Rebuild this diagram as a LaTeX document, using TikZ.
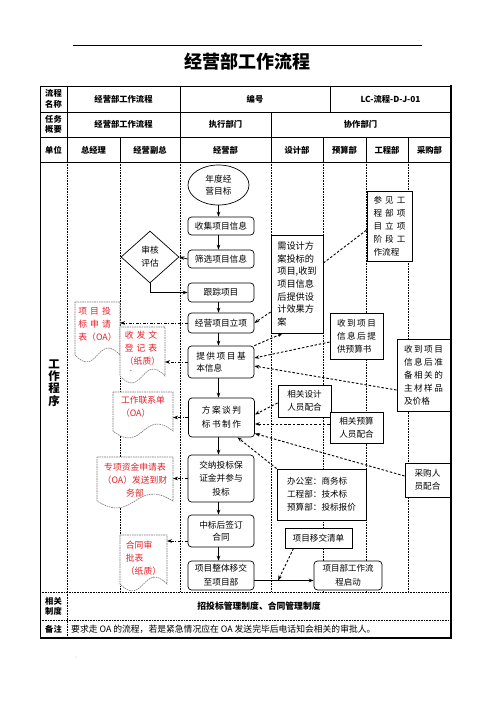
\documentclass[tikz,border=0pt]{standalone}
\usepackage{fontspec}
\setmainfont{Noto Sans CJK SC}
\usetikzlibrary{arrows.meta,shapes.geometric,calc}
\definecolor{docred}{RGB}{232,32,40}
\definecolor{docgray}{RGB}{120,120,120}
\newcommand\gp{\hspace{3pt}}
\newcommand\gq{\hspace{1.5pt}}
\newcommand\docshape[1]{\draw[docline] (#1.north west) -- (#1.north east) -- (#1.south east) .. controls ($(#1.south)+(0,-24)$) and ($(#1.south)+(0,24)$) .. (#1.south west) -- cycle;}
\begin{document}
\begin{tikzpicture}[x=1pt,y=-1pt,
 tbl/.style={line width=0.6pt},
 outerb/.style={line width=1.6pt},
 lane/.style={line width=0.5pt,dash pattern=on 0.7pt off 0.9pt},
 hd/.style={font=\bfseries\fontsize{8.3}{10.5}\selectfont, align=center, inner sep=0pt},
 proc/.style={draw, fill=white, rounded corners=3.5pt, line width=0.7pt, minimum width=66, inner sep=1pt, align=center, font=\fontsize{8.7}{12.5}\selectfont},
 note/.style={draw, fill=white, line width=0.8pt, inner sep=1pt, align=center, font=\fontsize{8.6}{12.9}\selectfont},
 docph/.style={inner sep=0pt, outer sep=0pt},
 docline/.style={draw=docgray, fill=white, line width=0.6pt, dash pattern=on 1.6pt off 0.8pt},
 doctxt/.style={text=docred, align=left, inner sep=0pt, font=\fontsize{8.8}{13}\selectfont},
 arr/.style={-{Stealth[length=5pt,width=3.6pt]}, line width=0.8pt},
 darr/.style={-{Stealth[length=5pt,width=3.6pt]}, line width=0.9pt, dash pattern=on 2.5pt off 1.8pt},
 dline/.style={line width=0.9pt, dash pattern=on 2.5pt off 1.8pt},
 ddarr/.style={-{Stealth[length=5pt,width=3.6pt]}, line width=0.7pt, dash pattern=on 3pt off 1.5pt on 1pt off 1.5pt},
]
\useasboundingbox (0,0) rectangle (496,702);
\fill[white] (0,0) rectangle (496,702);

% header line and title
\draw[line width=0.9pt] (73,45) -- (422,45);
\node[font=\fontsize{4}{4}\selectfont, text=gray] (m1) at (419,41) {..};
\node[font=\bfseries\fontsize{18}{20}\selectfont] (title) at (247,62) {经营部工作流程};

% lanes (main area)
\foreach \x in {67,120,180,271,323,366,408} \draw[lane] (\x,162) -- (\x,592);
\draw[lane] (40,592) -- (451,592);
\draw[lane] (40,620) -- (451,620);
\draw[lane] (67,592) -- (67,638);

% table lines
\draw[tbl] (40,86) -- (451,86);
\draw[tbl] (40,86) -- (40,638);
\draw[tbl] (40,112) -- (451,112);
\draw[tbl] (40,137) -- (451,137);
\draw[tbl] (40,162) -- (451,162);
\draw[tbl] (67,86) -- (67,162);
\draw[tbl] (180,86) -- (180,162);
\draw[tbl] (330,86) -- (330,112);
\draw[tbl] (271,112) -- (271,162);
\foreach \x in {120,323,366,408} \draw[tbl] (\x,137) -- (\x,162);
\draw[outerb] (451,85.2) -- (451,638) -- (40,638);

% header texts
\node[hd] (h1) at (53.5,99) {流程\\名称};
\node[hd] (h2) at (53.5,124.5) {任务\\概要};
\node[hd] (h3) at (53.5,150) {单位};
\node[hd] (v1) at (123.5,99) {经营部工作流程};
\node[hd] (v2) at (255,99) {编号};
\node[hd] (v3) at (390.5,99) {LC-流程-D-J-01};
\node[hd] (v4) at (123.5,124.5) {经营部工作流程};
\node[hd] (v5) at (225.5,124.5) {执行部门};
\node[hd] (v6) at (360.5,124.5) {协作部门};
\node[hd] (u1) at (93.5,150) {总经理};
\node[hd] (u2) at (150,150) {经营副总};
\node[hd] (u3) at (225.5,150) {经营部};
\node[hd] (u4) at (297,150) {设计部};
\node[hd] (u5) at (344.5,150) {预算部};
\node[hd] (u6) at (387,150) {工程部};
\node[hd] (u7) at (429.5,150) {采购部};
\node[font=\bfseries\fontsize{11.5}{12.3}\selectfont, align=center, inner sep=0pt] (wk) at (54,383) {工\\作\\程\\序};
\node[hd] (h5) at (53.5,606.5) {相关\\制度};
\node[hd, font=\bfseries\fontsize{8.8}{10.5}\selectfont] (r1) at (259,606.5) {招投标管理制度、合同管理制度};
\node[hd] (h6) at (53.5,629) {备注};
\node[anchor=west, inner sep=0pt, font=\fontsize{8.8}{10}\selectfont] (r2) at (71,629) {要求走 OA 的流程，若是紧急情况应在 OA 发送完毕后电话知会相关的审批人。};
\node[font=\fontsize{4}{4}\selectfont, text=gray] (m2) at (76,657) {:.};

% document shapes
\node[docph, minimum width=45, minimum height=53] (dA) at (97.5,328.5) {};
\node[docph, minimum width=45, minimum height=49] (dB) at (142.5,351.5) {};
\node[docph, minimum width=60, minimum height=39] (dC) at (143,411.5) {};
\node[docph, minimum width=76, minimum height=44] (dD) at (135,479) {};
\node[docph, minimum width=47, minimum height=49] (dE) at (143.5,559.5) {};
\docshape{dA}
\docshape{dB}
\docshape{dC}
\docshape{dD}
\docshape{dE}
\node[doctxt] (tA) at (97.5,324) {项\gp 目\gp 投\\标\gp 申\gp 请\\表（OA）};
\node[doctxt] (tB) at (142.5,348) {收\gp 发\gp 文\\登\gp 记\gp 表\\（纸质）};
\node[inner sep=0pt, font=\fontsize{6}{6}\selectfont] (dashB) at (131,372) {-};
\node[doctxt] (tC) at (143,407) {工作联系单\\（OA）};
\node[doctxt, align=center] (tD) at (135,480) {专项资金申请表\\（OA）发送到财\\务部};
\node[doctxt] (tE) at (143.5,558) {合同审\\批表\\（纸质）};

% process column
\node[ellipse, draw, fill=white, line width=0.7pt, minimum width=61, minimum height=40, inner sep=0pt, align=center, font=\fontsize{8.7}{12}\selectfont] (p1) at (218.5,185) {年度经\\营目标};
\node[proc, minimum height=18] (p2) at (221,226) {收集项目信息};
\node[proc, minimum height=18] (p3) at (221,259) {筛选项目信息};
\node[proc, minimum height=19] (p4) at (221,292.5) {跟踪项目};
\node[proc, minimum height=20] (p5) at (221,323) {经营项目立项};
\node[proc, minimum height=32, align=left] (p6) at (221,362) {提\gq 供\gq 项\gq 目\gq 基\\本信息};
\node[proc, minimum height=39, font=\fontsize{8.7}{14}\selectfont] (p7) at (221.5,417.5) {方\gq 案\gq 谈\gq 判\\标\gq 书\gq 制\gq 作};
\node[proc, minimum height=47, font=\fontsize{8.7}{13.5}\selectfont] (p8) at (221,478.5) {交纳投标保\\证金并参与\\投标};
\node[proc, minimum height=32] (p9) at (221,531) {中标后签订\\合同};
\node[proc, minimum height=29, font=\fontsize{8.7}{14}\selectfont] (p10) at (221,575.5) {项目整体移交\\至项目部};
\node[diamond, draw, fill=white, line width=0.7pt, minimum width=58, minimum height=52, inner sep=0pt, align=center, font=\fontsize{8.7}{13}\selectfont] (dia) at (150,257) {审核\\评估};

% notes
\node[note, minimum width=52, minimum height=98, align=left, font=\fontsize{9.2}{12.7}\selectfont] (F) at (297,284) {需设计方\\案投标的\\项目,收到\\项目信息\\后提供设\\计效果方\\案};
\node[note, minimum width=45, minimum height=70, align=left] (G) at (389.5,226) {参\gp 见\gp 工\\程\gp 部\gp 项\\目\gp 立\gp 项\\阶\gp 段\gp 工\\作流程};
\node[note, minimum width=53, minimum height=46, align=left] (H) at (356.5,336) {收\gq 到\gq 项\gq 目\\信\gq 息\gq 后\gq 提\\供预算书};
\node[note, minimum width=53, minimum height=72, align=left] (I) at (423.5,375) {收\gq 到\gq 项\gq 目\\信\gq 息\gq 后\gq 准\\备\gq 相\gq 关\gq 的\\主\gq 材\gq 样\gq 品\\及价格};
\node[note, minimum width=53, minimum height=32] (J) at (304.5,401) {相关设计\\人员配合};
\node[note, minimum width=53, minimum height=31] (K) at (356.5,427.5) {相关预算\\人员配合};
\node[note, minimum width=45, minimum height=34] (L) at (427.5,480) {采购人\\员配合};
\node[note, minimum width=89, minimum height=51, align=left] (M) at (321.5,494.5) {办公室：商务标\\工程部：技术标\\预算部：投标报价};
\node[note, minimum width=67, minimum height=20] (N) at (318.5,538) {项目移交清单};
\node[proc, minimum width=68, minimum height=29, font=\fontsize{8.5}{14}\selectfont] (O) at (348,575.5) {项目部工作流\\程启动};

% solid flow arrows
\draw[arr] (p1.south) -- (p1.south |- p2.north);
\draw[arr] (p2.south -| p1.south) -- (p3.north -| p1.south);
\draw[arr] (p4.south -| p1.south) -- (p5.north -| p1.south);
\draw[arr] (p5.south -| p1.south) -- (p6.north -| p1.south);
\draw[arr] (p6.south -| p1.south) -- (p7.north -| p1.south);
\draw[arr] (p7.south -| p1.south) -- (p8.north -| p1.south);
\draw[arr] (p8.south -| p1.south) -- (p9.north -| p1.south);
\draw[arr] (p9.south -| p1.south) -- (p10.north -| p1.south);
\draw[arr] (p3.west) -- (dia.east);
\draw[arr] (dia.south) |- (p4.west);
\coordinate (p10e) at ([yshift=-5pt]p10.east);
\coordinate (Ow) at ([yshift=-5pt]O.west);
\draw[arr] (p10e) -- (Ow);
\coordinate (nx) at ($(p10e)!0.4!(Ow)$);

% dash-dot arrows to documents
\draw[ddarr] (p5.west) -- (p5.west -| dA.east);
\draw[ddarr] (p6.west) -- (p6.west -| dB.east);
\draw[ddarr] (p7.west) -- (p7.west -| dC.east);
\draw[ddarr] (p8.west) -- (p8.west -| dD.east);
\coordinate (p9w) at ([yshift=-10pt]p9.west);
\draw[ddarr] (p9w) -- (p9w -| dE.east);

% dashed connectors from notes
\draw[darr] ([yshift=-28pt]F.west) -- (p5.east);
\draw[dline] ([yshift=21pt]F.east) -- ([yshift=-4pt]G.west);
\draw[darr] (p6.north east) -- ([xshift=12pt]F.south west);
\draw[darr] ([yshift=-6pt]H.west) -- ([yshift=4pt]p6.east);
\draw[darr] ([yshift=-15pt]I.west) -- ([yshift=-4pt]p6.east);
\draw[darr] ([yshift=-2pt]J.west) -- ([yshift=3pt]p7.east);
\draw[darr] ([yshift=3.5pt]K.west) -- ([yshift=-6.5pt]p7.east);
\draw[darr] ([yshift=4pt]L.west) -- ([yshift=-16pt]p7.east);
\draw[darr] (M.north west) -- ([xshift=16pt]p7.south);
\draw[darr] ([xshift=-25pt]N.south) -- (nx);
\end{tikzpicture}
\end{document}
